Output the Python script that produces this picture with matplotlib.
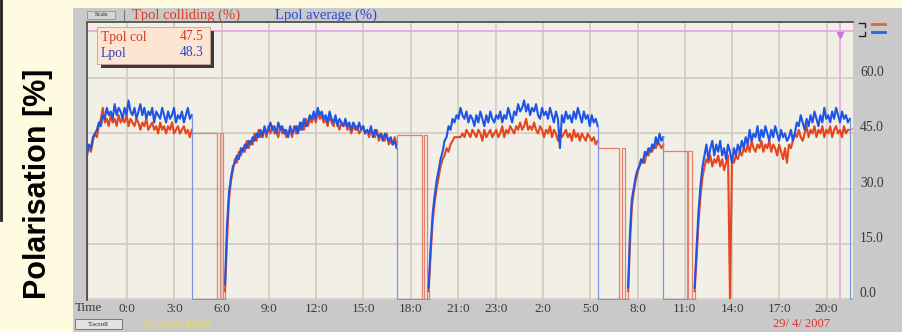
import numpy as np
import matplotlib.pyplot as plt
from matplotlib.patches import Rectangle
from matplotlib.lines import Line2D
from matplotlib.transforms import ScaledTranslation

# time spans (hours) of the beam fills; both polarimeter channels share them
fill_spans = [(-2.54, 4.11), (6.22, 17.11), (19.14, 29.87), (31.80, 34.03), (36.02, 45.87)]

# Lpol average (%) during each fill
lpol_fills = [
    [39, 42, 41, 44, 45, 46, 48, 47, 50, 49,
     52, 50, 51, 49, 53, 50, 52, 51, 49, 52,
     50, 54, 51, 50, 52, 49, 51, 53, 50, 52,
     49, 51, 50, 52, 48, 51, 50, 49, 52, 50,
     48, 51, 49, 50, 52, 48, 50, 49, 51, 48,
     50, 52, 49, 50],
    [4, 20, 29, 33, 36, 37, 39, 38, 41, 40, 42, 41,
     43, 42, 44, 43, 45, 44, 46, 44, 47, 45, 46, 48,
     46, 47, 45, 48, 46, 47, 45, 46, 44, 47, 45, 46,
     47, 45, 48, 46, 49, 47, 48, 50, 49, 51, 49, 52,
     50, 51, 49, 50, 48, 51, 49, 48, 50, 47, 49, 48,
     47, 49, 47, 48, 46, 48, 47, 46, 48, 46, 47, 45,
     46, 45, 47, 44, 46, 45, 44, 45, 43, 45, 44, 43,
     44, 42, 43, 41],
    [3, 14, 23, 28, 32, 35, 38, 40, 43, 44, 47, 46,
     49, 48, 50, 49, 52, 50, 49, 51, 48, 50, 49, 47,
     50, 48, 51, 49, 47, 50, 48, 51, 49, 48, 50, 49,
     51, 48, 50, 49, 52, 50, 48, 51, 50, 53, 51, 52,
     54, 51, 53, 50, 52, 51, 53, 50, 49, 52, 50, 51,
     49, 52, 50, 48, 51, 49, 41, 50, 48, 51, 49, 50,
     48, 51, 49, 52, 50, 48, 51, 49, 50, 47, 50, 48,
     49, 47],
    [3, 18, 27, 30, 33, 35, 36, 38, 37, 40, 39, 41, 40, 42, 41, 44, 42, 45, 43, 44],
    [3, 14, 24, 31, 36, 39, 42, 38, 41, 43, 39, 42,
     40, 43, 39, 41, 38, 42, 40, 37, 41, 39, 42, 40,
     43, 41, 44, 42, 46, 43, 45, 44, 47, 43, 46, 44,
     47, 45, 43, 46, 44, 47, 45, 43, 46, 44, 45, 43,
     44, 46, 43, 45, 48, 47, 50, 48, 46, 49, 47, 50,
     48, 51, 49, 47, 50, 48, 52, 49, 50, 48, 51, 49,
     52, 50, 48, 51, 49, 50, 48, 49],
]

# Tpol colliding (%) during each fill
tpol_fills = [
    [40, 41, 40, 43, 45, 44, 47, 49, 52, 48,
     49, 47, 50, 48, 49, 47, 50, 48, 49, 48,
     50, 47, 49, 48, 47, 49, 48, 46, 48, 47,
     49, 46, 47, 48, 46, 47, 45, 48, 46, 47,
     45, 47, 46, 48, 45, 46, 47, 45, 46, 47,
     45, 46, 44, 46],
    [2, 16, 27, 32, 35, 38, 37, 40, 39, 41, 40, 43,
     41, 43, 42, 45, 43, 46, 44, 45, 46, 44, 47, 45,
     47, 45, 46, 44, 47, 45, 46, 44, 45, 46, 44, 47,
     45, 47, 46, 48, 46, 49, 47, 49, 48, 50, 48, 51,
     49, 50, 48, 49, 47, 50, 48, 47, 49, 48, 46, 48,
     47, 48, 46, 47, 45, 47, 46, 47, 45, 46, 47, 45,
     46, 44, 46, 45, 44, 46, 43, 45, 44, 43, 45, 42,
     43, 42, 44, 42],
    [2, 12, 21, 26, 30, 33, 36, 38, 39, 41, 40, 42,
     43, 44, 44, 44, 44, 45, 44, 46, 45, 44, 46, 45,
     44, 46, 45, 43, 46, 44, 45, 46, 44, 45, 46, 44,
     45, 47, 44, 46, 45, 47, 46, 45, 47, 46, 48, 46,
     47, 49, 46, 47, 46, 48, 46, 45, 47, 46, 44, 46,
     45, 47, 44, 46, 45, 43, 46, 44, 45, 46, 44, 45,
     43, 46, 44, 45, 43, 45, 44, 43, 45, 44, 43, 44,
     42, 43],
    [2, 15, 25, 29, 32, 34, 36, 37, 38, 37, 40, 39, 41, 40, 42, 41, 43, 42, 41, 42],
    [2, 11, 21, 28, 33, 36, 38, 37, 39, 36, 38, 37,
     39, 36, 38, 35, 37, 39, 0, 38, 37, 39, 38, 40,
     39, 41, 40, 42, 40, 43, 41, 40, 42, 41, 43, 40,
     42, 41, 43, 40, 42, 41, 39, 42, 40, 38, 41, 37,
     42, 41, 43, 45, 44, 46, 44, 43, 45, 47, 44, 46,
     45, 47, 44, 46, 45, 47, 44, 46, 45, 47, 44, 46,
     47, 45, 46, 44, 47, 45, 46, 46],
]

# Tpol value held between fills, and times (h) it drops to 0 / returns / drops again
tpol_hold = [45.0, 44.7, 41.1, 40.3]
tpol_dropouts = [(5.73, 5.90, 6.12), (18.69, 18.86, 19.05),
                 (31.22, 31.39, 31.58), (35.51, 35.61, 35.83)]
tpol_last = 46.3

tick_hours = [0, 3, 6, 9, 12, 15, 18, 21, 23.4, 26.4, 29.4, 32.4, 35.4, 38.4, 41.4, 44.4]
tick_labels = ['0:0', '3:0', '6:0', '9:0', '12:0', '15:0', '18:0', '21:0',
               '23:0', '2:0', '5:0', '8:0', '11:0', '14:0', '17:0', '20:0']
y_ticks = [0, 15, 30, 45, 60]
marker_level = 73.0
cursor_hour = 45.24

W, H = 903, 332
X0, X1 = -2.54, 46.07

BLUE = '#1f55e6'
RED = '#e6461e'
BLUE_GAP = '#7d95e2'
RED_GAP = '#e4806c'
SERIF = ['Liberation Serif', 'DejaVu Serif']

fig = plt.figure(figsize=(W / 100, H / 100), dpi=100)
fig.patch.set_facecolor('#fefbe0')


def fx(px):
    return px / W


def fy(py):
    return 1 - py / H


# grey window panel behind the trend display
fig.add_artist(Rectangle((fx(73), 0), 1 - fx(73), fy(8), transform=fig.transFigure,
                         facecolor='#c9c9c9', edgecolor='none', zorder=0))
fig.add_artist(Line2D([fx(1), fx(1)], [fy(0), fy(220)], color='#222222', lw=2))

ax = fig.add_axes([fx(87), fy(300), fx(853) - fx(87), fy(22) - fy(300)])
ax.set_facecolor('#f1efe6')
ax.set_xlim(X0, X1)
ax.set_ylim(-0.4, 75.4)
for s in ['right', 'bottom']:
    ax.spines[s].set_visible(False)
for s in ['top', 'left']:
    ax.spines[s].set_color('#5c5c5c')
    ax.spines[s].set_linewidth(1.4)

ax.set_xticks(tick_hours)
ax.set_xticklabels(tick_labels, fontfamily=SERIF, fontsize=9.5, color='#3a3a3a')
ax.set_yticks(y_ticks)
ax.set_yticklabels(['%.1f' % v for v in y_ticks], fontfamily=SERIF, fontsize=9.8, color='#3a3a3a')
ax.yaxis.tick_right()
ax.tick_params(axis='x', length=0, pad=2)
ax.tick_params(axis='y', length=0, pad=5)
for lab in ax.get_yticklabels():
    lab.set_transform(lab.get_transform() + ScaledTranslation(0, 7 / 100, fig.dpi_scale_trans))
ax.grid(True, color='#cdc8bd', lw=1.1)
ax.set_axisbelow(True)

# reference level and time cursor
ax.axhline(marker_level, color='#e8a8e8', lw=1.3, zorder=2)
ax.axvline(cursor_hour, color='#e8a8e8', lw=1.3, zorder=2)
ax.plot([cursor_hour], [marker_level - 1.2], marker='v', ms=5, color='#d070d8', zorder=3)

# Tpol: fills plus held value and dropouts between fills
for i, (span, vals) in enumerate(zip(fill_spans, tpol_fills)):
    t = np.linspace(span[0], span[1], len(vals))
    if i == 0:
        ax.plot([t[0], t[0]], [0, vals[0]], color=RED_GAP, lw=0.9, zorder=3)
    ax.plot(t, vals, color=RED, lw=1.5, zorder=3)
    if i < len(tpol_hold):
        d0, d1, d2 = tpol_dropouts[i]
        hold = tpol_hold[i]
        nxt = fill_spans[i + 1][0]
        gx = [span[1], span[1], d0, d1, d2, nxt]
        gy = [vals[-1], hold, 0, hold, 0, 0]
        ax.plot(gx, gy, drawstyle='steps-post', color=RED_GAP, lw=0.9, zorder=3)
        ax.plot([nxt, nxt], [0, tpol_fills[i + 1][0]], color=RED_GAP, lw=0.9, zorder=3)
    else:
        ax.plot([span[1], X1], [vals[-1], tpol_last], color=RED_GAP, lw=0.9, zorder=3)

# Lpol: fills, dropping to 0 between them
for i, (span, vals) in enumerate(zip(fill_spans, lpol_fills)):
    t = np.linspace(span[0], span[1], len(vals))
    if i == 0:
        ax.plot([t[0], t[0]], [0, vals[0]], color='#3a4f90', lw=1.4, zorder=4)
    ax.plot(t, vals, color=BLUE, lw=1.5, zorder=4)
    nxt = fill_spans[i + 1][0] if i + 1 < len(fill_spans) else X1
    ax.plot([span[1], span[1], nxt], [vals[-1], 0, 0], color=BLUE_GAP, lw=0.9, zorder=4)

# value box in the upper left corner
fig.add_artist(Rectangle((fx(101), fy(68)), fx(113), fy(0) - fy(37), transform=fig.transFigure,
                         facecolor='#3c3c3c', edgecolor='none', zorder=5))
fig.add_artist(Rectangle((fx(97), fy(64)), fx(113), fy(0) - fy(37), transform=fig.transFigure,
                         facecolor='#fde5d4', edgecolor='#c8a090', lw=0.6, zorder=6))
fig.text(fx(101), fy(37), 'Tpol col', color='#d4361f', fontsize=9.8, family=SERIF, va='center', zorder=7)
fig.text(fx(204), fy(37), '47.5', color='#d4361f', fontsize=9.8, family=SERIF, va='center', ha='right', zorder=7)
fig.text(fx(101), fy(53), 'Lpol', color='#2a45c8', fontsize=9.8, family=SERIF, va='center', zorder=7)
fig.text(fx(204), fy(53), '48.3', color='#2a45c8', fontsize=9.8, family=SERIF, va='center', ha='right', zorder=7)

# header strip
fig.add_artist(Rectangle((fx(87), fy(19)), fx(28), fy(0) - fy(8), transform=fig.transFigure,
                         facecolor='#d6d6d6', edgecolor='#8a8a8a', lw=0.5))
fig.text(fx(101), fy(15), 'Scale', fontsize=4.5, family=SERIF, ha='center', va='center', color='#222222')
fig.add_artist(Line2D([fx(124), fx(124)], [fy(10), fy(20)], color='#777777', lw=0.8))
fig.text(fx(132), fy(15), 'Tpol colliding (%)', color='#e03a28', fontsize=10.5, family=SERIF, va='center')
fig.text(fx(275), fy(15), 'Lpol average (%)', color='#2a48d0', fontsize=10.5, family=SERIF, va='center')

# channel colour keys at the top right
fig.add_artist(Line2D([fx(859), fx(865), fx(865)], [fy(23), fy(23), fy(27)], color='#222222', lw=1))
fig.add_artist(Line2D([fx(859), fx(865), fx(865)], [fy(36), fy(36), fy(32)], color='#222222', lw=1))
fig.add_artist(Line2D([fx(872), fx(885)], [fy(23.5), fy(23.5)], color='#e8604a', lw=2))
fig.add_artist(Line2D([fx(872), fx(885)], [fy(32), fy(32)], color='#3060e0', lw=2))

# bottom strip
fig.text(fx(75), fy(308), 'Time', fontsize=9.5, family=SERIF, va='center', color='#3a3a3a')
fig.add_artist(Rectangle((fx(75), fy(329)), fx(47), fy(0) - fy(10), transform=fig.transFigure,
                         facecolor='#e2e2e2', edgecolor='#6a6a6a', lw=0.6))
fig.text(fx(98), fy(324), 'T.scroll', fontsize=5, family=SERIF, ha='center', va='center', color='#222222')
fig.text(fx(143), fy(324), 'Archive Data', fontsize=9, family=SERIF, va='center', color='#f2da4c')
fig.text(fx(802), fy(324), '29/ 4/ 2007', fontsize=9, family=SERIF, ha='center', va='center', color='#e03030')

fig.text(fx(38), fy(184), 'Polarisation [%]', rotation=90, fontsize=22, fontweight='bold',
         family=['Liberation Sans', 'DejaVu Sans'], ha='center', va='center', color='black')

fig.savefig('out.png', dpi=100, facecolor=fig.get_facecolor())
